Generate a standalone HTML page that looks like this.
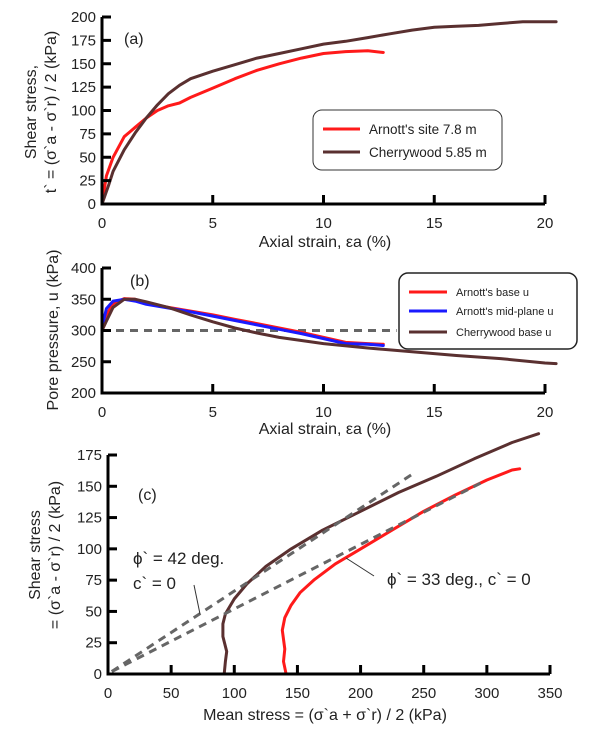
<!DOCTYPE html>
<html><head><meta charset="utf-8"><style>
body{margin:0;background:#fff;}
svg{display:block;font-family:"Liberation Sans",sans-serif;}
</style></head><body>
<svg id="s" width="609" height="734" viewBox="0 0 609 734"></svg>
<script>
// Panel (a) data
const aArnottX=[0,0.2,0.5,1,1.5,2,2.5,3,3.5,4,5,6,7,8,9,10,11,12,12.7];
const aArnottY=[0,30,50,72,82,92,100,105,108,114,124,134,143,150,156,161,163,164,162];
const aCherryX=[0,0.3,0.5,1,1.5,2,2.5,3,3.5,4,5,6,7,8,9,10,11,12,13,14,15,16,17,18,19,20,20.5];
const aCherryY=[0,20,35,58,76,92,106,118,127,134,142,149,156,161,166,171,174,178,182,186,189,190,191,193,195,195,195];
const aXTicks=[0,5,10,15,20];
const aYTicks=[0,25,50,75,100,125,150,175,200];
// Panel (b) data
const bRedX=[0,0.2,0.5,1,1.5,2,2.5,3,4,5,6,7,8,9,10,11,12,12.7];
const bRedY=[300,325,343,351,350,345,340,337,331,325,318,311,304,297,289,281,279,278];
const bBlueX=[0,0.2,0.5,1,1.5,2,2.5,3,4,5,6,7,8,9,10,11,12,12.7];
const bBlueY=[305,335,347,350,347,342,339,336,330,323,316,309,302,295,287,279,278,276];
const bCherryX=[0,0.2,0.5,1,1.5,2,3,4,5,6,7,8,9,10,12,14,16,18,20,20.5];
const bCherryY=[300,315,337,350,350,346,337,325,314,304,296,289,284,279,272,266,260,255,248,247];
const bXTicks=[0,5,10,15,20];
const bYTicks=[200,250,300,350,400];
// Panel (c) data
const cRedP=[141,139,140,138,140,145,152,163,180,200,225,250,275,300,320,326];
const cRedQ=[0,10,20,35,45,55,65,75,88,100,115,130,143,155,163,164];
const cCherryP=[92,93,94,91,91,93,100,110,125,145,170,200,230,260,290,320,341];
const cCherryQ=[0,10,18,30,40,48,60,72,86,100,115,130,145,158,172,185,192];
const cLine42P=[3,243];
const cLine42Q=[2,161];
const cLine33P=[3,296];
const cLine33Q=[2,153];
const cXTicks=[0,50,100,150,200,250,300,350];
const cYTicks=[0,25,50,75,100,125,150,175];

const NS="http://www.w3.org/2000/svg";
const svg=document.getElementById('s');
function el(tag,attrs,parent){const e=document.createElementNS(NS,tag);for(const k in attrs)e.setAttribute(k,attrs[k]);(parent||svg).appendChild(e);return e;}
function txt(x,y,s,size,anchor,name){const t=el('text',{x:x,y:y,'font-size':size,'text-anchor':anchor||'start',fill:'#222'});t.textContent=s;


return t;}
function lin(d0,d1,r0,r1){return v=>r0+(v-d0)/(d1-d0)*(r1-r0);}

function axes(sx,sy,xt,yt,xmin,xmax,ymin,ymax,prefix){
  const g=el('g',{});
  
  
  el('line',{x1:sx(xmin),y1:sy(ymin),x2:sx(xmax),y2:sy(ymin),stroke:'#000','stroke-width':3},g);
  el('line',{x1:sx(xmin),y1:sy(ymin)+1.5,x2:sx(xmin),y2:sy(ymax),stroke:'#000','stroke-width':3},g);
  xt.forEach(v=>{el('line',{x1:sx(v),y1:sy(ymin),x2:sx(v),y2:sy(ymin)-9,stroke:'#000','stroke-width':3},g);
    txt(sx(v),sy(ymin)+24,String(v),15,'middle',prefix+'-x-tick-label');});
  yt.forEach(v=>{el('line',{x1:sx(xmin),y1:sy(v),x2:sx(xmin)+9,y2:sy(v),stroke:'#000','stroke-width':3},g);
    txt(sx(xmin)-6,sy(v)+5,String(v),15,'end',prefix+'-y-tick-label');});
}
function path(xs,ys,sx,sy,color,w,name,dash){
  const d=xs.map((x,i)=>(i?'L':'M')+sx(x).toFixed(1)+','+sy(ys[i]).toFixed(1)).join(' ');
  const p=el('path',{d:d,fill:'none',stroke:color,'stroke-width':w,'stroke-linejoin':'round','stroke-linecap':dash?'butt':'round'});
  if(dash)p.setAttribute('stroke-dasharray',dash);
  
  
}
const RED='#ff1a1a',BR='#5a3030',BLUE='#1a1aff',GR='#666';

// Panel a
const axA=lin(0,20,102,545), ayA=lin(0,200,204,17);
path(aArnottX,aArnottY,axA,ayA,RED,3,'arnott-7.8m-curve');
path(aCherryX,aCherryY,axA,ayA,BR,3,'cherrywood-5.85m-curve');
axes(axA,ayA,aXTicks,aYTicks,0,20,0,200,'a');
txt(124,44,'(a)',16,'start','panel-a-label');
txt(325,247,'Axial strain, εa (%)',16,'middle','a-x-axis-title');
let t=txt(0,0,'Shear stress,',16,'middle','a-y-axis-title-line1');t.setAttribute('transform','translate(36,112) rotate(-90)');
t=txt(0,0,"t` = (σ`a - σ`r) / 2 (kPa)",16,'middle','a-y-axis-title-line2');t.setAttribute('transform','translate(56,112) rotate(-90)');
let r=el('rect',{x:313,y:110,width:189,height:60,rx:9,fill:'#fff',stroke:'#333','stroke-width':1});

el('line',{x1:323,y1:129,x2:360,y2:129,stroke:RED,'stroke-width':3});
txt(369,134,"Arnott's site 7.8 m",13.5,'start','legend-entry-arnott');
el('line',{x1:323,y1:152,x2:360,y2:152,stroke:BR,'stroke-width':3});
txt(369,157,'Cherrywood 5.85 m',13.5,'start','legend-entry-cherrywood');

// Panel b
const axB=lin(0,20,102,545), ayB=lin(200,400,393,268);
path([0,13.3],[300,300],axB,ayB,GR,3,'hydrostatic-300kpa-line','8,6');
path(bRedX,bRedY,axB,ayB,RED,3,'arnott-base-u-curve');
path(bBlueX,bBlueY,axB,ayB,BLUE,3,'arnott-mid-plane-u-curve');
path(bCherryX,bCherryY,axB,ayB,BR,3,'cherrywood-base-u-curve');
axes(axB,ayB,bXTicks,bYTicks,0,20,200,400,'b');
txt(130,286,'(b)',16,'start','panel-b-label');
txt(325,434,'Axial strain, εa (%)',16,'middle','b-x-axis-title');
t=txt(0,0,'Pore pressure, u (kPa)',16,'middle','b-y-axis-title');t.setAttribute('transform','translate(58,330) rotate(-90)');
r=el('rect',{x:399,y:273,width:178,height:76,rx:9,fill:'#fff',stroke:'#222','stroke-width':1.5});

el('line',{x1:409,y1:292,x2:447,y2:292,stroke:RED,'stroke-width':3});
txt(456,296,"Arnott's base u",11,'start','legend-entry-arnott-base');
el('line',{x1:409,y1:311,x2:447,y2:311,stroke:BLUE,'stroke-width':3});
txt(456,315,"Arnott's mid-plane u",11,'start','legend-entry-arnott-mid');
el('line',{x1:409,y1:332,x2:447,y2:332,stroke:BR,'stroke-width':3});
txt(456,336,'Cherrywood base u',11,'start','legend-entry-cherrywood-base');

// Panel c
const axC=lin(0,350,108,550), ayC=lin(0,175,674,455);
path(cRedP,cRedQ,axC,ayC,RED,3,'arnott-stress-path');
path(cCherryP,cCherryQ,axC,ayC,BR,3,'cherrywood-stress-path');
path(cLine42P,cLine42Q,axC,ayC,GR,3,'failure-line-42deg','8,6');
path(cLine33P,cLine33Q,axC,ayC,GR,3,'failure-line-33deg','8,6');
axes(axC,ayC,cXTicks,cYTicks,0,350,0,175,'c');
txt(138,500,'(c)',16,'start','panel-c-label');
txt(325,720,'Mean stress = (σ`a + σ`r) / 2 (kPa)',16,'middle','c-x-axis-title');
t=txt(0,0,'Shear stress',16,'middle','c-y-axis-title-line1');t.setAttribute('transform','translate(40,555) rotate(-90)');
t=txt(0,0,'= (σ`a - σ`r) / 2 (kPa)',16,'middle','c-y-axis-title-line2');t.setAttribute('transform','translate(60,555) rotate(-90)');
txt(133,564,'ϕ` = 42 deg.',17,'start','phi-42-annotation');
txt(133,589,'c` = 0',17,'start','c-0-annotation');
el('line',{x1:194,y1:585,x2:200,y2:614,stroke:'#333','stroke-width':1});
txt(387,585,'ϕ` = 33 deg., c` = 0',17,'start','phi-33-annotation');
el('line',{x1:346,y1:558,x2:374,y2:576,stroke:'#333','stroke-width':1});
</script>
</body></html>
